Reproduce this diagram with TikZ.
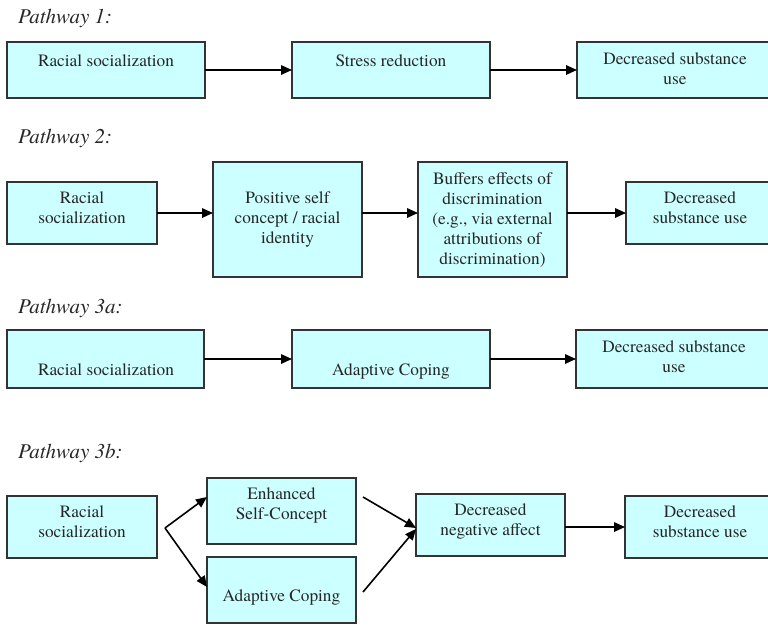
\documentclass[tikz,border=0pt]{standalone}
\usepackage{fontspec}
\setmainfont{texgyretermes}[Extension=.otf, UprightFont=*-regular, ItalicFont=*-italic, BoldFont=*-bold, BoldItalicFont=*-bolditalic]
\usetikzlibrary{arrows.meta,calc}
\definecolor{boxfill}{HTML}{CCFFFF}
\definecolor{boxline}{HTML}{333333}
\tikzset{
 box/.style={draw=boxline, fill=boxfill, line width=1.4pt, inner sep=0pt, outer sep=0pt},
 lbl/.style={anchor=north, inner sep=0pt, align=center, text=black!85, font=\fontsize{17.3}{20}\selectfont, execute at begin node=\strut},
 ttl/.style={anchor=base west, inner sep=0pt, text=black!85, font=\fontsize{21}{25}\selectfont\itshape},
 arr/.style={line width=1.6pt, -{Triangle[length=11pt,width=9.5pt]}},
}
\newcommand\mybox[5]{\node[box, minimum width={(#4)-(#2)}, minimum height={(#5)-(#3)}] (#1) at ({((#2)+(#4))/2},{((#3)+(#5))/2}) {};}
\begin{document}
\begin{tikzpicture}[x=1pt,y=-1pt]
\useasboundingbox (0,0) rectangle (768,624);
\clip (0,0) rectangle (768,624);
% titles
\node[ttl] (p1) at (18,23) {Pathway 1:};
\node[ttl] (p2) at (18,143) {Pathway 2:};
\node[ttl] (p3a) at (18,313) {Pathway 3a:};
\node[ttl] (p3b) at (18,458) {Pathway 3b:};
% row 1
\mybox{A1}{7}{42}{205}{98}
\mybox{A2}{292}{42}{490}{98}
\mybox{A3}{577}{42}{773}{98}
\node[lbl] (tA1) at (106,52) {Racial socialization};
\node[lbl] (tA2) at (391,52) {Stress reduction};
\node[lbl] (tA3) at (675,52) {Decreased substance\\use};
\draw[arr] (A1.east) -- (A2.west);
\draw[arr] (A2.east) -- (A3.west);
% row 2
\mybox{B1}{7}{182}{157}{244}
\mybox{B2}{213}{162}{362}{277}
\mybox{B3}{418}{162}{567}{277}
\mybox{B4}{626}{182}{773}{244}
\node[lbl] (tB1) at (82,191) {Racial\\socialization};
\node[lbl] (tB2) at (287.5,191) {Positive self\\concept / racial\\identity};
\node[lbl] (tB3) at (492.5,172) {Buffers effects of\\discrimination\\(e.g., via external\\attributions of\\discrimination)};
\node[lbl] (tB4) at (700,191) {Decreased\\substance use};
\draw[arr] (B1.east) -- (B1.east -| B2.west);
\draw[arr] (B2.east |- B1.east) -- (B1.east -| B3.west);
\draw[arr] (B3.east |- B1.east) -- (B4.west);
% row 3
\mybox{C1}{7}{330}{204}{388}
\mybox{C2}{292}{330}{490}{388}
\mybox{C3}{576}{330}{773}{388}
\node[lbl] (tC1) at (106,361) {Racial socialization};
\node[lbl] (tC2) at (391,361) {Adaptive Coping};
\node[lbl] (tC3) at (674,340) {Decreased substance\\use};
\draw[arr] (C1.east) -- (C2.west);
\draw[arr] (C2.east) -- (C3.west);
% row 4
\mybox{D1}{7}{496}{157}{558}
\mybox{E}{207}{478}{356}{544}
\mybox{F}{207}{557}{356}{623}
\mybox{G}{416}{494}{565}{556}
\mybox{H}{625}{496}{773}{558}
\node[lbl] (tD1) at (82,505) {Racial\\socialization};
\node[lbl] (tE) at (281.5,487) {Enhanced\\Self-Concept};
\node[lbl] (tF) at (281.5,587) {Adaptive Coping};
\node[lbl] (tG) at (490.5,503) {Decreased\\negative affect};
\node[lbl] (tH) at (700,505) {Decreased\\substance use};
\coordinate (br) at (165,528);
\draw[arr] (br) -- ([yshift=14pt]E.west);
\draw[arr] (br) -- ([yshift=3pt]F.west);
\draw[arr] ([xshift=7pt,yshift=14pt]E.east) -- ([yshift=-3pt]G.west);
\draw[arr] ([xshift=7pt,yshift=-2pt]F.east) -- ([yshift=-4pt]G.west);
\draw[arr] (H.west -| G.east) -- (H.west);
\end{tikzpicture}
\end{document}
